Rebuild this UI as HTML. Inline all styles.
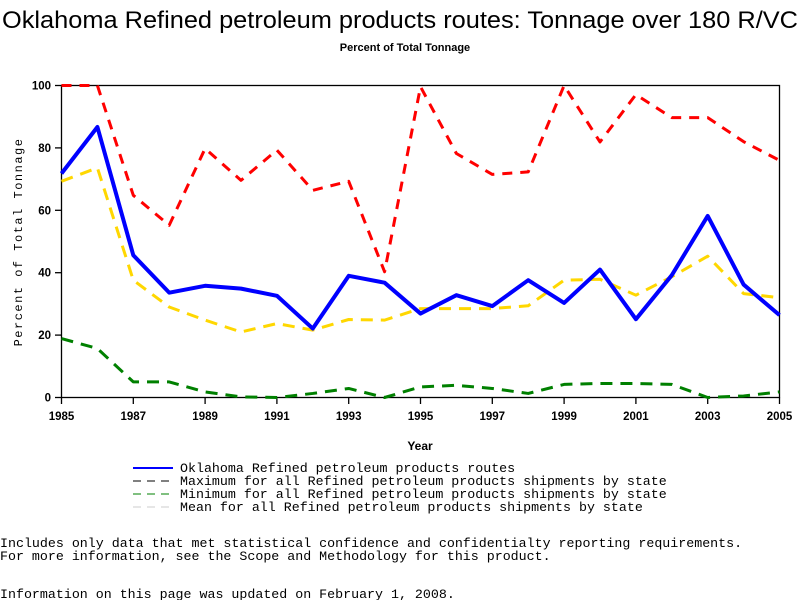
<!DOCTYPE html>
<html><head><meta charset="utf-8"><style>
body{margin:0;background:#fff;width:800px;height:600px;overflow:hidden;}
svg text{font-family:"Liberation Sans",sans-serif;}
.mono{font-family:"Liberation Mono",monospace;font-size:13.3px;}
</style></head><body>
<svg id="chart" width="800" height="600">
<text x="2" y="28" textLength="796" lengthAdjust="spacingAndGlyphs" font-size="24">Oklahoma Refined petroleum products routes: Tonnage over 180 R/VC</text>
<text x="405" y="51" text-anchor="middle" font-size="11" font-weight="bold">Percent of Total Tonnage</text>
<rect x="61.5" y="85.5" width="718" height="312" fill="none" stroke="#000" stroke-width="1.3"/>
<g id="ticks"></g>
<g id="series"></g>
<text x="420" y="450" text-anchor="middle" font-size="12" font-weight="bold">Year</text>
<text transform="translate(22,242) rotate(-90)" text-anchor="middle" letter-spacing="1.5" class="mono" style="font-size:12px">Percent of Total Tonnage</text>
<g>
<line x1="133" y1="468" x2="173" y2="468" stroke="#0000ff" stroke-width="2"/>
<text x="180" y="472" class="mono">Oklahoma Refined petroleum products routes</text>
<line x1="133" y1="481" x2="173" y2="481" stroke="#000" stroke-dasharray="8,6"/>
<text x="180" y="485" class="mono">Maximum for all Refined petroleum products shipments by state</text>
<line x1="133" y1="494" x2="173" y2="494" stroke="#008000" stroke-dasharray="8,6"/>
<text x="180" y="498" class="mono">Minimum for all Refined petroleum products shipments by state</text>
<line x1="133" y1="507" x2="173" y2="507" stroke="#ccc" stroke-dasharray="8,6"/>
<text x="180" y="511" class="mono">Mean for all Refined petroleum products shipments by state</text>
</g>
<text x="0" y="547" class="mono">Includes only data that met statistical confidence and confidentialty reporting requirements.</text>
<text x="0" y="560" class="mono">For more information, see the Scope and Methodology for this product.</text>
<text x="0" y="598" class="mono">Information on this page was updated on February 1, 2008.</text>
</svg>
<script>
const years=[1985,1986,1987,1988,1989,1990,1991,1992,1993,1994,1995,1996,1997,1998,1999,2000,2001,2002,2003,2004,2005];
const oklahoma=[71.8,86.7,45.6,33.6,35.8,34.9,32.6,22.1,39,36.8,26.9,32.8,29.3,37.6,30.3,41,25.1,39.2,58.2,36.2,26.4];
const maxVals=[100,100,64.8,55.2,79.8,69.6,79.3,66.4,69.3,40.3,99.6,78.2,71.5,72.3,100,81.9,97.1,89.7,89.7,82,76];
const minVals=[18.9,15.7,5,5,1.8,0.2,0,1.3,2.9,0,3.4,3.9,2.9,1.3,4.2,4.5,4.5,4.2,0,0.5,1.8];
const meanVals=[69.3,73.6,37.6,29,24.8,21,23.7,21.6,25,24.8,28.5,28.5,28.5,29.4,37.6,37.9,32.8,38.7,45.3,33.3,32];
const xTicks=[1985,1987,1989,1991,1993,1995,1997,1999,2001,2003,2005];
const yTicks=[0,20,40,60,80,100];
const NS="http://www.w3.org/2000/svg";
const X=y=>61.5+(y-1985)*(779.5-61.5)/20;
const Y=v=>397.5-v*3.12;
const tg=document.getElementById('ticks');
function mk(tag,attrs,parent){const e=document.createElementNS(NS,tag);for(const k in attrs)e.setAttribute(k,attrs[k]);parent.appendChild(e);return e;}
xTicks.forEach(t=>{
  const l=mk('line',{x1:X(t),x2:X(t),y1:397.5,y2:404,stroke:'#000','stroke-width':1.3},tg);
  
  
  const tx=mk('text',{x:X(t),y:420,'text-anchor':'middle','font-size':11.5,'font-weight':'bold'},tg);
  tx.textContent=t;
  
  
});
yTicks.forEach(t=>{
  const l=mk('line',{x1:55,x2:61.5,y1:Y(t),y2:Y(t),stroke:'#000','stroke-width':1.3},tg);
  
  
  const tx=mk('text',{x:51,y:Y(t)+4,'text-anchor':'end','font-size':11.5,'font-weight':'bold'},tg);
  tx.textContent=t;
  
  
});
const sg=document.getElementById('series');
function line(vals,color,width,dash,name){
  const p=mk('polyline',{points:vals.map((v,i)=>X(years[i])+','+Y(v)).join(' '),fill:'none',stroke:color,'stroke-width':width,'stroke-linejoin':'round'},sg);
  if(dash)p.setAttribute('stroke-dasharray',dash);
  
  
}
line(minVals,'#008000',3,'12,8','min-line');
line(meanVals,'#ffd700',3,'12,8','mean-line');
line(maxVals,'#ff0000',3,'10,8','max-line');
line(oklahoma,'#0000ff',4,null,'oklahoma-line');
</script>
</body></html>
